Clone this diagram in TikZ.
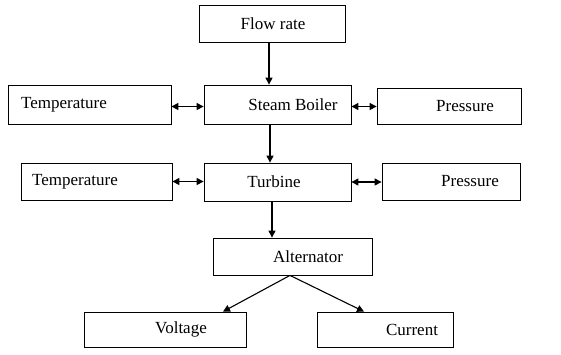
\documentclass[tikz,border=0pt]{standalone}
\usepackage{fontspec}
\setmainfont{Liberation Serif}
\usetikzlibrary{arrows.meta}
\begin{document}
\begin{tikzpicture}[x=1pt,y=-1pt,
  box/.style={draw,line width=0.8pt,inner sep=0pt},
  lbl/.style={inner sep=0pt,font=\fontsize{17}{19}\selectfont},
  arr/.style={line width=1.1pt,-{Triangle[length=7pt,width=7pt]}},
  darr/.style={line width=1.1pt,{Triangle[length=7pt,width=7pt]}-{Triangle[length=7pt,width=7pt]}}]
\useasboundingbox (0,0) rectangle (561,354);
% boxes
\node[box,minimum width=146pt,minimum height=37pt] (flow) at (272,23.5) {};
\node[box,minimum width=147pt,minimum height=39pt] (boiler) at (277.5,104.5) {};
\node[box,minimum width=163pt,minimum height=39pt] (temp1) at (89.5,104.5) {};
\node[box,minimum width=144pt,minimum height=36pt] (pres1) at (449,106) {};
\node[box,minimum width=147pt,minimum height=38pt] (turb) at (277.5,182) {};
\node[box,minimum width=151pt,minimum height=37pt] (temp2) at (96.5,181.5) {};
\node[box,minimum width=138pt,minimum height=37pt] (pres2) at (451,181.5) {};
\node[box,minimum width=159pt,minimum height=37pt] (alt) at (292.5,256.5) {};
\node[box,minimum width=162pt,minimum height=35pt] (volt) at (165,329.5) {};
\node[box,minimum width=136pt,minimum height=35pt] (curr) at (385,329.5) {};
% labels
\node[lbl] (tflow) at (273,23.5) {Flow rate};
\node[lbl] (tboiler) at (293,104.5) {Steam Boiler};
\node[lbl] (ttemp1) at (64,104.5) {Temperature};
\node[lbl] (tpres1) at (465,106) {Pressure};
\node[lbl] (tturb) at (274,182) {Turbine};
\node[lbl] (ttemp2) at (75,181.5) {Temperature};
\node[lbl] (tpres2) at (470,181.5) {Pressure};
\node[lbl] (talt) at (308,256.5) {Alternator};
\node[lbl] (tvolt) at (181,329.5) {Voltage};
\node[lbl] (tcurr) at (412,329.5) {Current};
% connectors
\draw[arr] ([xshift=-3pt]flow.south) -- ([xshift=-3pt]flow.south |- boiler.north);
\draw[arr] ([xshift=-7.5pt]boiler.south) -- ([xshift=-7.5pt]boiler.south |- turb.north);
\draw[arr] ([xshift=-5.5pt]turb.south) -- ([xshift=-5.5pt]turb.south |- alt.north);
\draw[darr] ([yshift=-2pt]temp1.east) -- ([yshift=-2pt]temp1.east -| boiler.west);
\draw[darr] ([yshift=-2pt]boiler.east) -- ([yshift=-2pt]boiler.east -| pres1.west);
\draw[darr] (temp2.east) -- (temp2.east -| turb.west);
\draw[darr] (turb.east) -- (turb.east -| pres2.west);
\draw[arr] ([xshift=-2.5pt]alt.south) -- ([xshift=58pt]volt.north);
\draw[arr] ([xshift=-2.5pt]alt.south) -- ([xshift=-21pt]curr.north);
\end{tikzpicture}
\end{document}
